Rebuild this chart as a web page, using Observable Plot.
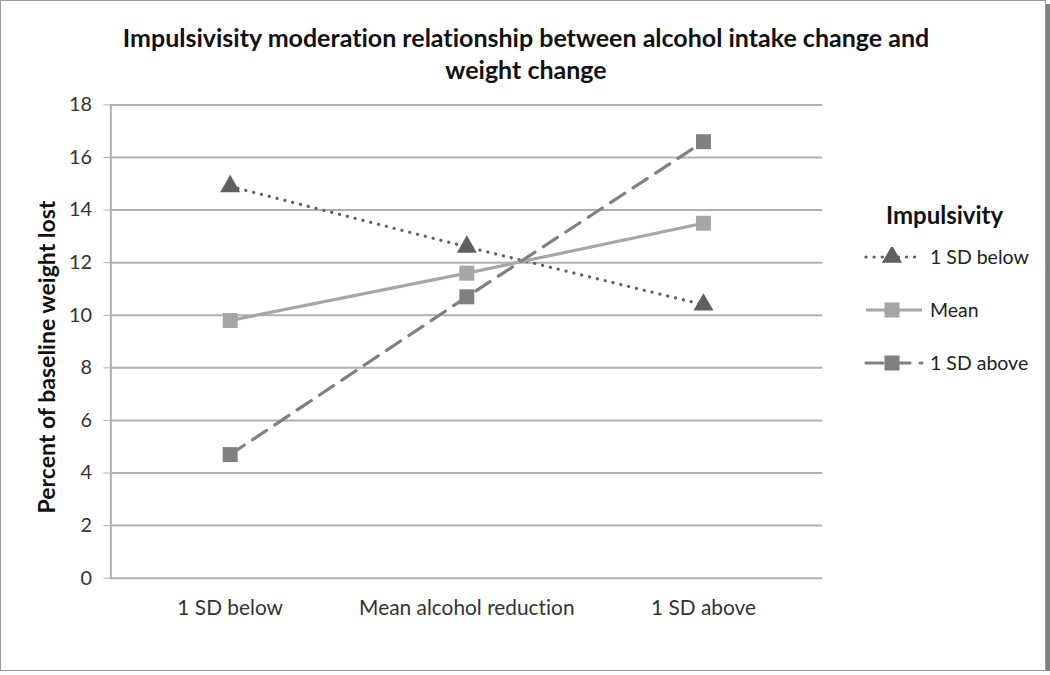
<!DOCTYPE html>
<html>
<head>
<meta charset="utf-8">
<script src="https://cdn.jsdelivr.net/npm/d3@7"></script>
<script src="https://cdn.jsdelivr.net/npm/@observablehq/plot@0.6"></script>
<style>
  html, body { margin: 0; padding: 0; background: #fff; }
  #wrap {
    position: relative; width: 1044px; height: 669px;
    border: 1px solid #9a9a9a; box-shadow: 4px 4px 0 #808080;
    font-family: Lato, "Open Sans", sans-serif; overflow: hidden; background: #fff;
    font-variant-ligatures: none;
  }
  #title {
    position: absolute; left: 0; top: 20px; width: 1050px; text-align: center;
    font-weight: bold; font-size: 25px; line-height: 32px; color: #111;
  }
  #ylabel {
    position: absolute; left: 45px; top: 356px; transform: translate(-50%, -50%) rotate(-90deg);
    white-space: nowrap; font-weight: bold; font-size: 23px; color: #111;
  }
  #legend { position: absolute; left: 862px; top: 199px; font-size: 19.5px; color: #222; }
  #legend .lt { font-weight: bold; font-size: 24px; color: #111; margin-left: 23px; margin-bottom: 1px; }
  #legend .it { display: flex; align-items: center; height: 53px; }
  #legend svg { margin-right: 5px; }
  #chart { position: absolute; left: 0; top: 0; }
  #chart g[aria-label="y-axis tick label"] text { font-size: 20px !important; }
  #chart g[aria-label="x-axis tick label"] text { font-size: 21px !important; }
</style>
</head>
<body>
<div id="wrap">
  <div id="chart"></div>
  <div id="title">Impulsivisity moderation relationship between alcohol intake change and<br>weight change</div>
  <div id="ylabel">Percent of baseline weight lost</div>
  <div id="legend"></div>
</div>
<script>
const categories = ["1 SD below", "Mean alcohol reduction", "1 SD above"];
const seriesNames = ["1 SD below", "Mean", "1 SD above"];
const sdBelow = [14.9, 12.6, 10.4];
const meanVals = [9.8, 11.6, 13.5];
const sdAbove = [4.7, 10.7, 16.6];
const yTicks = [0, 2, 4, 6, 8, 10, 12, 14, 16, 18];

const styles = [
  {color: "#606060", dash: "0.1 8", cap: "round", symbol: "triangle", r: 7.5},
  {color: "#a6a6a6", dash: null, cap: "butt", symbol: "square", r: 8.5},
  {color: "#808080", dash: "17 10", cap: "round", symbol: "square", r: 8.5}
];
const valueLists = [sdBelow, meanVals, sdAbove];
const tables = valueLists.map((vals, s) => categories.map((c, i) => ({cat: c, v: vals[i], series: seriesNames[s]})));

const marks = [
  Plot.gridY(yTicks, {stroke: "#b0b0b0", strokeWidth: 2, strokeOpacity: 1}),
  Plot.axisY(yTicks, {tickSize: 7, tickPadding: 12, stroke: "#b0b0b0", fontSize: 20, fill: "#333", label: null}),
  Plot.axisX({tickSize: 0, tickPadding: 22, fontSize: 21, fill: "#333", label: null}),
  Plot.frame({anchor: "left", stroke: "#b0b0b0", strokeWidth: 2})
];
tables.forEach((t, s) => {
  const st = styles[s];
  marks.push(Plot.line(t, {x: "cat", y: "v", stroke: st.color, strokeWidth: 3.2, strokeDasharray: st.dash, strokeLinecap: st.cap}));
});
tables.forEach((t, s) => {
  const st = styles[s];
  marks.push(Plot.dot(t, {x: "cat", y: "v", symbol: st.symbol, r: st.r, fill: st.color, stroke: null}));
});

const chart = Plot.plot({
  width: 1050, height: 675,
  marginLeft: 110, marginRight: 224, marginTop: 104, marginBottom: 95,
  style: {fontFamily: "Lato, 'Open Sans', sans-serif", fontSize: "20px", background: "transparent"},
  x: {type: "point", domain: categories, padding: 0.5, label: null},
  y: {domain: [0, 18], label: null},
  marks
});
document.getElementById("chart").appendChild(chart);

// legend
const leg = document.getElementById("legend");
const lt = document.createElement("div"); lt.className = "lt"; lt.textContent = "Impulsivity"; leg.appendChild(lt);
seriesNames.forEach((name, s) => {
  const st = styles[s];
  const it = document.createElement("div"); it.className = "it";
  const svg = d3.create("svg").attr("width", 62).attr("height", 20);
  svg.append("line").attr("x1", 3).attr("x2", 59).attr("y1", 10).attr("y2", 10)
    .attr("stroke", st.color).attr("stroke-width", 3.2)
    .attr("stroke-dasharray", st.dash).attr("stroke-linecap", st.cap);
  svg.append("path").attr("transform", "translate(29,10)")
    .attr("d", d3.symbol(st.symbol === "triangle" ? d3.symbolTriangle : d3.symbolSquare, st.r * st.r * Math.PI)())
    .attr("fill", st.color);
  it.appendChild(svg.node());
  const tx = document.createElement("span"); tx.textContent = name; it.appendChild(tx);
  leg.appendChild(it);
});
</script>
</body>
</html>
